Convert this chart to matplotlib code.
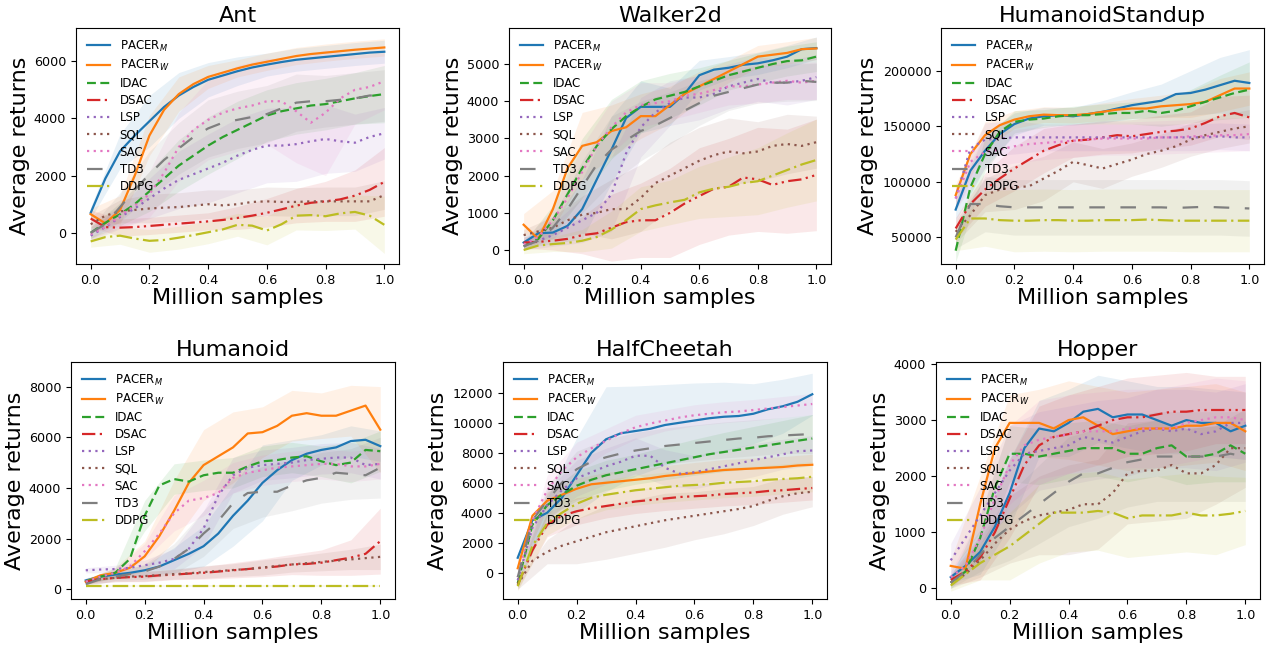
import numpy as np
import matplotlib.pyplot as plt

# x grids (million samples)
x_mean = np.linspace(0, 1.0, 21)
x_std = np.linspace(0, 1.0, 11)

algos = ["PACER$_M$", "PACER$_W$", "IDAC", "DSAC", "LSP", "SQL", "SAC", "TD3", "DDPG"]
colors = ["tab:blue", "tab:orange", "tab:green", "tab:red", "tab:purple",
          "tab:brown", "tab:pink", "tab:gray", "tab:olive"]
styles = ["-", "-", (0, (4, 2)), (0, (6, 2, 1, 2, 1, 2)), (0, (1, 2)),
          (0, (1, 2)), (0, (1, 2)), (0, (7, 7)), (0, (7, 2, 1, 2))]

# ---------------- Ant ----------------
ant_mean = [
    [700, 1900, 2850, 3400, 3900, 4400, 4800, 5100, 5350, 5500, 5650, 5780, 5880, 5970, 6050, 6100, 6150, 6200, 6250, 6300, 6330],
    [650, 330, 800, 2000, 3400, 4300, 4850, 5200, 5450, 5600, 5750, 5880, 5980, 6080, 6180, 6250, 6300, 6350, 6400, 6440, 6480],
    [0, 350, 650, 1000, 1450, 1900, 2350, 2700, 3050, 3350, 3600, 3850, 4100, 4250, 4350, 4450, 4500, 4600, 4700, 4780, 4850],
    [500, 200, 180, 200, 240, 280, 320, 360, 400, 450, 520, 600, 700, 820, 950, 1050, 1100, 1170, 1300, 1500, 1780],
    [-100, 200, 550, 850, 1200, 1550, 1850, 2050, 2250, 2450, 2700, 2900, 3050, 3050, 3100, 3200, 3280, 3200, 3150, 3350, 3480],
    [300, 600, 750, 800, 850, 880, 900, 950, 1000, 960, 1000, 1080, 1100, 1080, 1080, 1100, 1100, 1100, 1100, 1100, 1320],
    [-50, 200, 600, 950, 1350, 2100, 3000, 3600, 3950, 4200, 4350, 4450, 4600, 4600, 4250, 3850, 4200, 4700, 5000, 5100, 5300],
    [0, 300, 900, 1500, 2050, 2550, 2950, 3350, 3650, 3850, 3950, 4050, 4150, 4350, 4550, 4600, 4600, 4650, 4700, 4800, 4800],
    [-300, -150, -100, -200, -280, -250, -170, -80, 20, 120, 280, 250, 80, 300, 600, 620, 580, 680, 730, 600, 280],
]
ant_std = [
    [200, 600, 900, 800, 600, 500, 400, 400, 400, 400, 400],
    [200, 500, 700, 600, 400, 300, 300, 300, 300, 300, 300],
    [200, 400, 700, 900, 1000, 1000, 900, 900, 900, 900, 1000],
    [300, 300, 300, 300, 300, 400, 500, 600, 700, 900, 1200],
    [200, 400, 700, 1000, 1200, 1300, 1300, 1300, 1200, 1000, 900],
    [300, 400, 500, 500, 500, 500, 500, 500, 500, 500, 500],
    [200, 400, 800, 1200, 1400, 1500, 1500, 1800, 2200, 1200, 1000],
    [200, 500, 800, 900, 1000, 1000, 1000, 1000, 900, 900, 900],
    [200, 300, 400, 400, 400, 400, 500, 500, 500, 600, 1000],
]

# ---------------- Walker2d ----------------
walker_mean = [
    [200, 450, 470, 650, 1100, 1900, 2700, 3550, 3850, 3850, 3850, 4200, 4700, 4850, 4900, 4980, 5020, 5100, 5200, 5400, 5430],
    [680, 300, 1100, 2200, 2800, 2900, 3200, 3300, 3600, 3600, 3900, 4200, 4400, 4600, 4800, 5000, 5200, 5250, 5300, 5400, 5420],
    [100, 300, 800, 1500, 2200, 2800, 3250, 3600, 3850, 4050, 4150, 4250, 4400, 4550, 4700, 4800, 4900, 5000, 5080, 5100, 5200],
    [200, 220, 250, 300, 400, 450, 600, 750, 800, 800, 1000, 1250, 1450, 1650, 1700, 1950, 1900, 1750, 1850, 1900, 2020],
    [100, 250, 400, 600, 800, 1000, 1500, 2600, 3300, 3700, 3950, 4100, 4100, 4200, 4400, 4500, 4600, 4500, 4500, 4550, 4650],
    [400, 500, 600, 800, 950, 1000, 1100, 1100, 1400, 1800, 2000, 2200, 2400, 2550, 2650, 2600, 2650, 2800, 2850, 2800, 2900],
    [150, 350, 800, 1400, 2100, 2800, 3300, 3700, 3900, 3950, 4000, 4150, 4200, 4300, 4400, 4400, 4450, 4500, 4550, 4500, 4550],
    [100, 250, 600, 1100, 1700, 2300, 2700, 2950, 3200, 3350, 3550, 3750, 3950, 4150, 4250, 4350, 4450, 4500, 4500, 4550, 4520],
    [0, 120, 160, 190, 250, 350, 550, 800, 1100, 1200, 1280, 1350, 1550, 1650, 1700, 1800, 1850, 2000, 2150, 2300, 2420],
]
walker_std = [
    [150, 300, 800, 900, 700, 500, 400, 300, 300, 300, 300],
    [300, 500, 900, 700, 600, 500, 400, 300, 300, 300, 300],
    [100, 400, 800, 800, 700, 600, 500, 400, 400, 400, 400],
    [150, 250, 500, 900, 1000, 1200, 1300, 1300, 1400, 1400, 1500],
    [100, 300, 600, 1000, 800, 600, 600, 600, 600, 600, 600],
    [150, 300, 500, 800, 900, 900, 900, 900, 800, 800, 700],
    [100, 300, 700, 700, 600, 500, 500, 500, 500, 500, 500],
    [100, 300, 700, 900, 800, 700, 600, 500, 500, 500, 500],
    [100, 200, 300, 500, 600, 600, 700, 800, 900, 1000, 1100],
]

# ---------------- HumanoidStandup ----------------
hs_mean = [
    [75000, 110000, 128000, 143000, 152000, 157000, 159000, 160000, 159000, 161000, 163000, 166000, 169000, 171000, 173000, 179000, 180000, 183000, 187000, 191000, 189000],
    [88000, 125000, 142000, 151000, 156000, 159000, 160500, 160000, 160000, 161000, 163000, 165000, 166000, 166000, 168000, 169000, 170000, 172000, 178000, 184000, 184000],
    [38000, 95000, 125000, 145000, 154000, 156000, 157000, 159000, 160000, 160000, 161000, 162000, 162000, 164000, 162000, 164000, 168000, 172000, 176000, 180000, 183000],
    [58000, 80000, 93000, 103000, 112000, 120000, 128000, 133000, 137000, 138000, 140000, 142000, 141000, 143000, 145000, 146000, 148000, 153000, 159000, 162000, 158000],
    [85000, 130000, 138000, 139000, 140000, 140000, 140000, 140000, 140000, 140000, 140000, 140000, 140000, 140000, 140000, 140000, 140000, 140000, 141000, 140000, 140000],
    [55000, 70000, 88000, 93000, 95000, 96000, 103000, 110000, 118000, 115000, 112000, 116000, 120000, 125000, 128000, 132000, 138000, 142000, 145000, 148000, 150000],
    [85000, 118000, 127000, 129000, 132000, 134000, 135000, 136000, 137000, 138000, 139000, 139000, 139000, 139000, 140000, 140000, 141000, 141000, 142000, 142000, 143000],
    [50000, 80000, 80000, 78000, 77000, 77000, 77000, 77000, 77000, 77000, 77000, 77000, 77000, 77000, 77000, 76500, 77000, 77500, 77000, 76500, 76000],
    [48000, 67000, 67000, 65500, 65000, 65000, 65500, 65500, 65000, 65000, 65500, 65500, 65500, 66000, 65500, 65000, 65000, 65000, 65000, 65000, 65000],
]
hs_std = [
    [10000, 15000, 10000, 8000, 8000, 10000, 12000, 15000, 20000, 25000, 30000],
    [10000, 12000, 8000, 7000, 7000, 8000, 9000, 10000, 12000, 15000, 15000],
    [10000, 15000, 10000, 8000, 8000, 9000, 10000, 12000, 15000, 20000, 25000],
    [10000, 15000, 20000, 20000, 15000, 15000, 15000, 15000, 15000, 18000, 20000],
    [10000, 15000, 15000, 12000, 12000, 12000, 12000, 12000, 12000, 12000, 12000],
    [10000, 15000, 20000, 20000, 18000, 18000, 15000, 15000, 15000, 15000, 15000],
    [10000, 15000, 15000, 15000, 15000, 15000, 15000, 15000, 15000, 15000, 15000],
    [10000, 25000, 25000, 25000, 25000, 25000, 25000, 25000, 25000, 25000, 25000],
    [10000, 25000, 28000, 28000, 28000, 28000, 28000, 28000, 28000, 28000, 28000],
]

# ---------------- Humanoid ----------------
hum_mean = [
    [350, 500, 580, 650, 750, 900, 1150, 1400, 1700, 2200, 2900, 3500, 4200, 4700, 5100, 5350, 5500, 5600, 5850, 5900, 5650],
    [300, 550, 650, 850, 1300, 2100, 3100, 4200, 4900, 5250, 5600, 6150, 6200, 6450, 6850, 6950, 6850, 6850, 7050, 7250, 6300],
    [300, 500, 650, 1200, 2900, 4100, 4350, 4250, 4500, 4600, 4600, 4850, 5050, 5100, 5200, 5250, 5050, 4900, 5000, 5500, 5450],
    [300, 400, 450, 480, 500, 550, 580, 620, 650, 700, 750, 800, 850, 900, 980, 1000, 1050, 1150, 1250, 1400, 1900],
    [750, 780, 800, 850, 950, 1050, 1200, 1600, 2400, 3700, 4500, 4800, 4900, 4950, 5000, 5100, 5150, 5200, 5200, 4900, 4950],
    [300, 400, 450, 500, 520, 560, 600, 630, 680, 720, 760, 800, 860, 920, 980, 1030, 1080, 1130, 1180, 1230, 1280],
    [300, 500, 650, 900, 1500, 2200, 3000, 3500, 3600, 3800, 4400, 4600, 4700, 4800, 4850, 4900, 4950, 4950, 4850, 4850, 4950],
    [200, 400, 500, 600, 700, 900, 1200, 1600, 2200, 2700, 3400, 3800, 3850, 3850, 4100, 4300, 4400, 4600, 4550, 4500, 4800],
    [130, 130, 130, 130, 130, 130, 130, 130, 130, 130, 130, 130, 130, 130, 130, 130, 130, 130, 130, 130, 130],
]
hum_std = [
    [100, 150, 200, 500, 800, 1200, 1500, 800, 600, 600, 600],
    [100, 200, 600, 1200, 1400, 1400, 1000, 1000, 900, 1000, 1700],
    [100, 200, 600, 600, 600, 600, 600, 600, 600, 800, 800],
    [100, 150, 200, 200, 250, 300, 350, 400, 500, 700, 1300],
    [100, 150, 200, 400, 700, 700, 600, 600, 600, 600, 600],
    [100, 150, 200, 200, 250, 250, 300, 300, 350, 400, 500],
    [100, 150, 300, 700, 700, 600, 600, 600, 600, 600, 600],
    [100, 150, 300, 600, 900, 1000, 1000, 1000, 1000, 1000, 1200],
    [20, 20, 20, 20, 20, 20, 20, 20, 20, 20, 20],
]

# ---------------- HalfCheetah ----------------
hc_mean = [
    [1000, 3500, 4000, 5000, 6500, 8000, 8900, 9300, 9450, 9600, 9850, 10000, 10150, 10300, 10400, 10450, 10600, 10900, 11100, 11400, 11900],
    [300, 3800, 4800, 5200, 5600, 5900, 6000, 6100, 6200, 6300, 6450, 6550, 6650, 6750, 6850, 6900, 6950, 7000, 7050, 7150, 7200],
    [-700, 3200, 4500, 5200, 5800, 6200, 6500, 6700, 6900, 7100, 7300, 7500, 7700, 7900, 8050, 8200, 8350, 8500, 8650, 8800, 8950],
    [-800, 1500, 3200, 3800, 4100, 4300, 4450, 4600, 4750, 4850, 4950, 5050, 5100, 5150, 5250, 5300, 5350, 5450, 5500, 5580, 5650],
    [-500, 3000, 4500, 5500, 6300, 6700, 7100, 7400, 7800, 7800, 7000, 6600, 6700, 6900, 7100, 7300, 7500, 7700, 7900, 8100, 8150],
    [-800, 800, 1400, 1800, 2100, 2400, 2700, 2900, 3100, 3300, 3500, 3650, 3800, 3950, 4100, 4250, 4450, 4800, 5100, 5300, 5400],
    [-300, 3500, 5500, 6800, 7700, 8300, 8800, 9300, 9700, 9950, 10150, 10350, 10500, 10600, 10700, 10750, 10850, 10950, 11050, 11150, 11250],
    [-300, 3500, 4800, 6000, 6900, 7400, 7700, 7950, 8150, 8300, 8450, 8550, 8650, 8750, 8850, 8950, 9000, 9100, 9150, 9200, 9250],
    [-900, 1800, 3300, 4000, 4600, 5000, 5200, 5350, 5500, 5600, 5700, 5800, 5850, 5900, 6000, 6050, 6100, 6200, 6250, 6300, 6400],
]
hc_std = [
    [300, 1000, 2500, 3500, 3000, 2700, 2500, 2300, 2000, 1800, 1400],
    [300, 600, 700, 700, 700, 700, 700, 700, 700, 700, 700],
    [300, 800, 1000, 1000, 1000, 1100, 1200, 1300, 1400, 1500, 1600],
    [300, 800, 900, 800, 800, 800, 800, 800, 800, 800, 800],
    [300, 1000, 1200, 1200, 1200, 1200, 1100, 1100, 1100, 1000, 1000],
    [300, 800, 1500, 1800, 1800, 1800, 1600, 1500, 1300, 1200, 1000],
    [300, 1000, 1000, 800, 800, 700, 700, 700, 700, 700, 700],
    [300, 1000, 1200, 1200, 1200, 1200, 1200, 1200, 1200, 1200, 1300],
    [300, 800, 1000, 1000, 1000, 1000, 1000, 1000, 1000, 1000, 1000],
]

# ---------------- Hopper ----------------
hop_mean = [
    [200, 400, 650, 1100, 1700, 2500, 2850, 2800, 2950, 3150, 3200, 3050, 3100, 3100, 3000, 2900, 3000, 2950, 2950, 2800, 2900],
    [400, 350, 1500, 2500, 2950, 2950, 2950, 2850, 3000, 3050, 2900, 2750, 2800, 2850, 2850, 2850, 2900, 2900, 2950, 2950, 2800],
    [100, 300, 900, 1800, 2400, 2400, 2350, 2400, 2450, 2500, 2500, 2500, 2400, 2400, 2500, 2550, 2350, 2350, 2400, 2550, 2400],
    [150, 300, 550, 1000, 1600, 2200, 2550, 2700, 2750, 2800, 2900, 3000, 3050, 3050, 3100, 3150, 3150, 3180, 3180, 3180, 3180],
    [500, 900, 1300, 1700, 2100, 2400, 2450, 2500, 2550, 2700, 2650, 2600, 2700, 2800, 2850, 2800, 2850, 2750, 2800, 2950, 2950],
    [100, 250, 500, 800, 1050, 1200, 1300, 1350, 1400, 1500, 1500, 1700, 2050, 2100, 2100, 2200, 2050, 2050, 2200, 2500, 2500],
    [200, 400, 900, 1600, 2200, 2550, 2650, 2700, 2750, 2800, 2800, 2800, 2850, 2850, 2850, 2850, 2950, 3000, 3050, 3050, 3000],
    [100, 300, 600, 900, 1100, 1300, 1500, 1700, 1900, 2050, 2050, 2150, 2250, 2300, 2350, 2350, 2350, 2350, 2350, 2400, 2350],
    [50, 250, 450, 600, 750, 950, 1150, 1350, 1350, 1350, 1380, 1350, 1250, 1300, 1300, 1300, 1350, 1300, 1300, 1330, 1380],
]
hop_std = [
    [100, 400, 600, 500, 600, 600, 600, 600, 600, 600, 600],
    [100, 500, 500, 600, 700, 700, 700, 700, 700, 700, 700],
    [100, 400, 500, 500, 500, 500, 500, 500, 500, 500, 500],
    [100, 400, 700, 700, 700, 700, 700, 700, 700, 600, 600],
    [300, 500, 800, 700, 700, 700, 700, 700, 700, 700, 700],
    [100, 300, 600, 700, 800, 800, 900, 900, 800, 700, 700],
    [100, 400, 700, 700, 700, 700, 700, 700, 700, 700, 700],
    [100, 300, 600, 700, 800, 800, 800, 800, 800, 800, 800],
    [100, 300, 600, 700, 700, 700, 700, 700, 700, 700, 600],
]

panels = [
    ("Ant", ant_mean, ant_std, (-1090, 7160), [0, 2000, 4000, 6000]),
    ("Walker2d", walker_mean, walker_std, (-376, 5970), [0, 1000, 2000, 3000, 4000, 5000]),
    ("HumanoidStandup", hs_mean, hs_std, (26000, 238500), [50000, 100000, 150000, 200000]),
    ("Humanoid", hum_mean, hum_std, (-383, 8970), [0, 2000, 4000, 6000, 8000]),
    ("HalfCheetah", hc_mean, hc_std, (-1750, 14050), [0, 2000, 4000, 6000, 8000, 10000, 12000]),
    ("Hopper", hop_mean, hop_std, (-190, 4036), [0, 1000, 2000, 3000, 4000]),
]

# axes boxes in pixels (left, top, right, bottom) on a 1275x650 canvas
boxes = [(76, 28, 399, 264), (509, 28, 831, 264), (941, 28, 1264, 264),
         (71, 362, 395, 599), (503, 362, 827, 599), (936, 362, 1260, 599)]

fig, axs = plt.subplots(2, 3, figsize=(12.75, 6.5), dpi=100)
for ax, (title, means, stds, ylim, yticks), box in zip(axs.flat, panels, boxes):
    l, t, r, b = box
    ax.set_position([l / 1275, 1 - b / 650, (r - l) / 1275, (b - t) / 650])
    for i in range(len(algos)):
        m = np.array(means[i], dtype=float)
        s = np.array(stds[i], dtype=float)
        ax.fill_between(x_std, m[::2] - s, m[::2] + s, color=colors[i], alpha=0.1, lw=0)
        ax.plot(x_mean, m, color=colors[i], linestyle=styles[i], lw=1.6, label=algos[i])
    ax.set_ylim(*ylim)
    ax.set_yticks(yticks)
    ax.set_xticks([0, 0.2, 0.4, 0.6, 0.8, 1.0])
    ax.tick_params(labelsize=9.2)
    ax.set_title(title, fontsize=16, pad=4)
    ax.set_xlabel("Million samples", fontsize=16, labelpad=1)
    ax.set_ylabel("Average returns", fontsize=16, labelpad=3)
    ax.legend(loc="upper left", frameon=False, fontsize=8.5, labelspacing=0.35)

fig.savefig("out.png", dpi=100)
